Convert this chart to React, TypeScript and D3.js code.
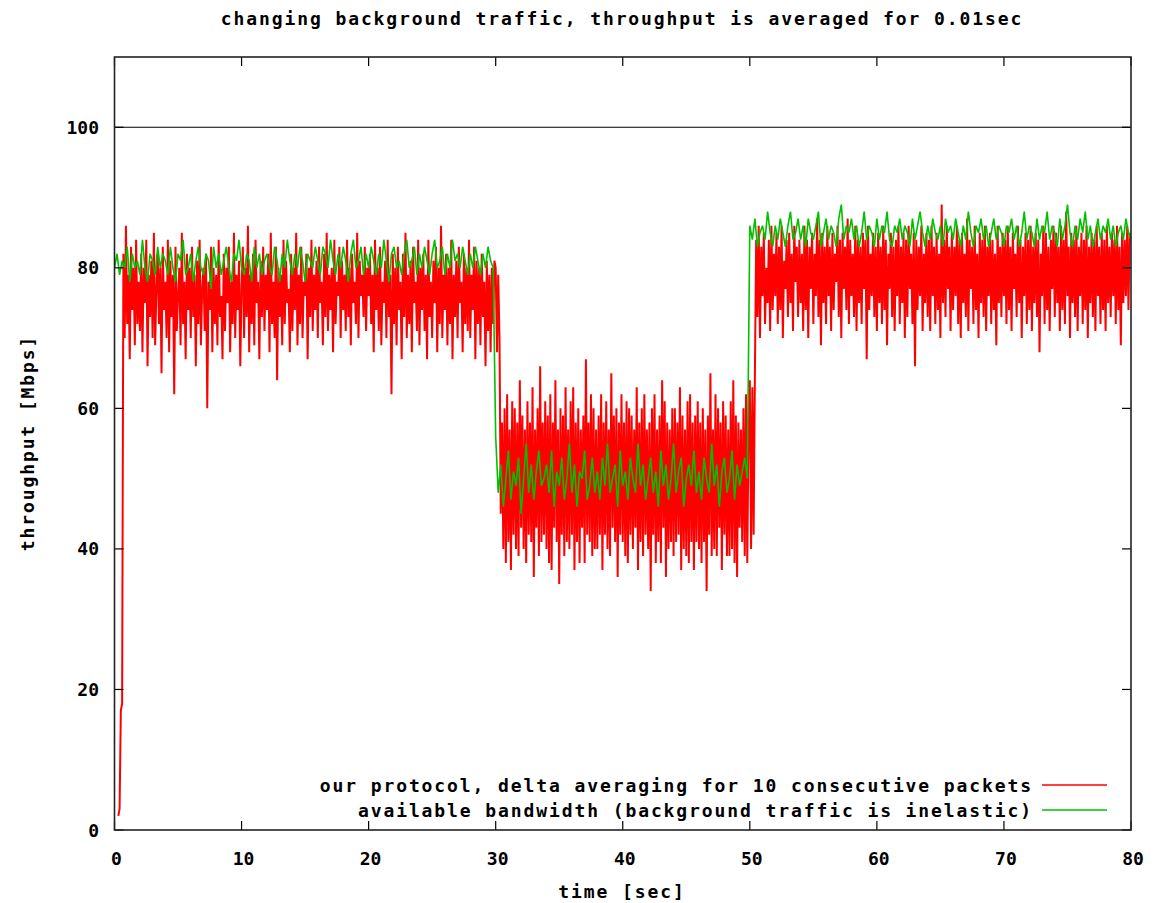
import React from "react";
import * as d3 from "d3";

const title = "changing background traffic, throughput is averaged for 0.01sec";
const xLabel = "time [sec]";
const yLabel = "throughput [Mbps]";
const xTicks = [0, 10, 20, 30, 40, 50, 60, 70, 80];
const yTicks = [0, 20, 40, 60, 80, 100];
const xDomain = [0, 80];
const yDomain = [0, 110];
const legendLabels = [
  "our protocol, delta averaging for 10 consecutive packets",
  "available bandwidth (background traffic is inelastic)",
];
const capacity = 100;

const redStep = 0.1;
const redSeg1Start = 0;
const redSeg1 = [
  null, null, null, 2, 3, 17, 18, 82, 70, 86, 72, 79, 67, 83, 74, 80, 69, 84, 72, 78,
  71, 82, 68, 80, 75, 84, 66, 79, 73, 81, 70, 85, 69, 77, 82, 72, 80, 65, 83, 74,
  78, 70, 84, 68, 81, 73, 79, 62, 83, 71, 76, 80, 69, 85, 72, 78, 67, 82, 74, 80,
  70, 83, 73, 79, 66, 81, 72, 84, 69, 77, 80, 71, 82, 60, 78, 74, 83, 68, 80, 72,
  79, 69, 84, 73, 76, 67, 82, 71, 80, 75, 83, 68, 78, 72, 85, 70, 79, 74, 81, 66,
  77, 83, 70, 80, 73, 86, 68, 79, 72, 82, 69, 84, 75, 78, 67, 81, 73, 83, 71, 79,
  74, 82, 68, 85, 72, 78, 70, 83, 64, 80, 73, 79, 69, 84, 72, 81, 75, 77, 68, 82,
  71, 80, 74, 85, 69, 79, 72, 83, 70, 78, 76, 82, 67, 80, 73, 84, 71, 79, 74, 81,
  70, 83, 75, 78, 69, 82, 73, 85, 71, 79, 74, 80, 68, 84, 72, 78, 76, 83, 70, 81,
  74, 79, 71, 84, 73, 80, 69, 82, 75, 78, 72, 85, 70, 81, 76, 79, 73, 83, 71, 80,
  76, 82, 72, 79, 68, 84, 74, 80, 71, 83, 69, 78, 75, 81, 70, 84, 73, 79, 62, 82,
  72, 80, 69, 83, 74, 78, 67, 82, 73, 85, 70, 79, 72, 81, 68, 83, 75, 78, 71, 84,
  69, 80, 74, 82, 71, 79, 67, 84, 73, 78, 70, 81, 75, 83, 68, 80, 72, 86, 70, 79,
  74, 82, 69, 80, 72, 84, 67, 79, 73, 81, 70, 83, 75, 78, 68, 82, 72, 80, 71, 84,
  70, 79, 74, 83, 67, 81, 72, 80, 69, 82, 73, 78, 66, 81, 71, 79, 68, 80, 72, 81,
];
const redSeg2Start = 30;
const redSeg2 = [
  80, 68, 79, 70, 45, 58, 40, 60, 38, 62, 41, 57, 37, 61, 42, 60, 40, 58, 39, 64,
  43, 59, 40, 57, 38, 61, 42, 58, 41, 63, 36, 57, 43, 60, 39, 66, 41, 58, 42, 61,
  40, 59, 38, 62, 37, 58, 43, 64, 41, 57, 35, 60, 42, 59, 39, 63, 41, 57, 40, 61,
  42, 63, 37, 58, 41, 60, 38, 57, 43, 59, 38, 67, 42, 58, 41, 62, 39, 60, 40, 57,
  40, 59, 42, 62, 37, 58, 42, 61, 40, 57, 39, 65, 43, 59, 41, 60, 36, 58, 42, 62,
  41, 58, 39, 61, 38, 60, 42, 59, 40, 57, 43, 63, 37, 58, 41, 60, 39, 62, 42, 57,
  40, 58, 34, 60, 42, 62, 38, 57, 41, 59, 38, 64, 43, 61, 36, 58, 40, 57, 41, 60,
  39, 60, 41, 58, 42, 63, 37, 59, 40, 57, 39, 61, 38, 62, 41, 58, 37, 59, 41, 61,
  40, 58, 38, 60, 41, 57, 34, 59, 42, 65, 39, 57, 40, 62, 39, 60, 43, 58, 37, 61,
  42, 59, 39, 57, 39, 61, 40, 64, 38, 59, 36, 58, 43, 57, 41, 60, 39, 62, 38, 57,
];
const redSeg3Start = 50;
const redSeg3 = [
  64, 40, 63, 42, 65, 84, 73, 86, 70, 83, 76, 85, 72, 80, 75, 84, 71, 86, 74, 82,
  76, 85, 72, 83, 74, 86, 70, 81, 77, 84, 73, 85, 75, 82, 71, 86, 78, 83, 73, 84,
  75, 82, 71, 86, 74, 84, 70, 83, 77, 85, 72, 82, 76, 87, 73, 84, 69, 85, 75, 83,
  72, 86, 76, 83, 71, 85, 74, 82, 78, 86, 73, 84, 70, 85, 77, 83, 74, 87, 72, 84,
  76, 82, 73, 86, 71, 84, 75, 83, 72, 85, 77, 84, 67, 86, 74, 82, 76, 85, 73, 83,
  71, 85, 75, 83, 72, 86, 74, 84, 69, 82, 77, 85, 73, 83, 71, 84, 76, 86, 72, 83,
  75, 85, 70, 84, 73, 86, 77, 82, 72, 85, 66, 84, 74, 83, 76, 86, 71, 82, 75, 85,
  73, 84, 71, 86, 76, 83, 72, 85, 74, 82, 70, 89, 75, 84, 73, 86, 77, 83, 71, 85,
  74, 83, 76, 86, 72, 84, 70, 85, 75, 82, 73, 87, 71, 84, 77, 83, 72, 86, 74, 82,
  70, 85, 75, 84, 73, 86, 71, 83, 76, 85, 72, 84, 74, 82, 69, 86, 75, 83, 73, 85,
  76, 84, 72, 86, 74, 83, 71, 85, 77, 82, 73, 86, 75, 84, 70, 83, 76, 85, 72, 84,
  74, 86, 71, 83, 75, 85, 73, 84, 68, 82, 76, 86, 72, 85, 74, 83, 71, 84, 77, 86,
  73, 85, 75, 83, 71, 86, 74, 84, 72, 88, 76, 83, 70, 85, 75, 84, 73, 86, 71, 83,
  76, 85, 72, 84, 74, 86, 70, 83, 75, 85, 73, 84, 71, 86, 76, 83, 72, 85, 74, 84,
  71, 86, 75, 83, 73, 85, 76, 84, 72, 86, 74, 83, 69, 85, 75, 84, 76, 86, 74, 85,
];

const greenStep = 0.2;
const greenSeg1Start = 0;
const greenSeg1 = [
  80, 82, 79, 81, 80, 83, 78, 82, 80, 81, 79, 84, 80, 78, 82, 81, 79, 83, 80, 82,
  81, 79, 83, 80, 78, 82, 81, 84, 79, 80, 82, 78, 81, 83, 80, 79, 82, 81, 77, 83,
  80, 82, 79, 81, 83, 80, 78, 82, 81, 84, 80, 79, 82, 81, 78, 83, 80, 82, 79, 81,
  82, 80, 79, 83, 81, 78, 82, 80, 84, 81, 79, 82, 80, 83, 81, 78, 82, 81, 80, 83,
  81, 79, 83, 82, 80, 84, 81, 79, 82, 80, 83, 81, 78, 82, 84, 80, 81, 83, 79, 82,
  80, 83, 81, 79, 82, 80, 84, 81, 78, 82, 83, 80, 81, 79, 82, 84, 80, 81, 83, 79,
  82, 80, 83, 81, 79, 82, 84, 80, 81, 83, 79, 82, 80, 84, 81, 82, 80, 83, 81, 79,
  82, 80, 83, 81, 79, 82, 80, 83, 81, 80,
];
const greenSeg2Start = 30;
const greenSeg2 = [
  56, 48, 52, 46, 50, 54, 47, 51, 49, 53, 45, 50, 55, 48, 52, 47, 51, 54, 49, 50,
  52, 48, 54, 46, 51, 49, 53, 47, 50, 55, 48, 52, 46, 51, 50, 54, 47, 49, 53, 48,
  51, 47, 53, 49, 55, 48, 50, 52, 46, 54, 49, 51, 47, 53, 50, 48, 55, 49, 52, 47,
  50, 53, 48, 51, 46, 54, 49, 52, 47, 50, 55, 48, 51, 53, 46, 50, 52, 49, 54, 48,
  51, 47, 53, 50, 48, 55, 49, 52, 46, 51, 53, 48, 50, 54, 47, 52, 49, 51, 53, 50,
];
const greenSeg3Start = 50;
const greenSeg3 = [
  86, 84, 87, 83, 85, 86, 84, 88, 85, 83, 86, 84, 87, 85, 83, 86, 88, 84, 85, 87,
  84, 86, 83, 87, 85, 84, 86, 88, 83, 85, 87, 84, 86, 85, 83, 87, 89, 84, 86, 85,
  87, 84, 86, 83, 85, 88, 84, 86, 85, 83, 87, 84, 86, 85, 88, 84, 83, 86, 85, 87,
  84, 86, 85, 83, 87, 84, 86, 88, 85, 83, 86, 84, 87, 85, 84, 86, 83, 87, 85, 86,
  84, 87, 85, 83, 86, 84, 88, 85, 83, 86, 85, 87, 84, 86, 83, 85, 87, 84, 86, 85,
  83, 86, 85, 87, 84, 86, 83, 85, 88, 84, 86, 85, 83, 87, 84, 86, 85, 88, 84, 86,
  85, 83, 87, 84, 86, 89, 85, 83, 86, 84, 87, 85, 88, 84, 86, 83, 85, 87, 84, 86,
  85, 87, 84, 86, 83, 85, 86, 84, 87, 85, 84,
];

type Pt = { t: number; v: number | null };

function toPoints(segs: { start: number; values: (number | null)[] }[], step: number): Pt[] {
  return segs.flatMap((s) => s.values.map((v, i) => ({ t: s.start + i * step, v })));
}

const redPoints = toPoints(
  [
    { start: redSeg1Start, values: redSeg1 },
    { start: redSeg2Start, values: redSeg2 },
    { start: redSeg3Start, values: redSeg3 },
  ],
  redStep
);
const greenPoints = toPoints(
  [
    { start: greenSeg1Start, values: greenSeg1 },
    { start: greenSeg2Start, values: greenSeg2 },
    { start: greenSeg3Start, values: greenSeg3 },
  ],
  greenStep
);

const W = 1169;
const H = 903;
const left = 114.5;
const right = 1131;
const top = 57;
const bottom = 830;
const tickLen = 9;
const FONT = "'DejaVu Sans Mono', 'Liberation Mono', monospace";

export default function App() {
  const x = d3.scaleLinear().domain(xDomain).range([left, right]);
  const y = d3.scaleLinear().domain(yDomain).range([bottom, top]);
  const line = d3
    .line<Pt>()
    .defined((d) => d.v != null)
    .x((d) => x(d.t))
    .y((d) => y(d.v as number));

  const textStyle: React.CSSProperties = {
    fontFamily: FONT,
    fontWeight: "bold",
    fontSize: 18,
    letterSpacing: 1.9,
  };

  return (
    <svg
      width={W}
      height={H}
      style={{ position: "absolute", left: 0, top: 0, background: "#fff" }}
    >
      <defs>
        <clipPath id="plot">
          <rect x={left} y={top} width={right - left} height={bottom - top} />
        </clipPath>
      </defs>
      <rect x={0} y={0} width={W} height={H} fill="#fff" />
      <g clipPath="url(#plot)">
        <path
          d={line(redPoints) || ""}
          fill="none"
          stroke="#ff0000"
          strokeWidth={2}
          strokeLinejoin="miter"
          strokeMiterlimit={1}
        />
        <path
          d={line(greenPoints) || ""}
          fill="none"
          stroke="#00c000"
          strokeWidth={1.6}
          strokeLinejoin="miter"
          strokeMiterlimit={1}
        />
        <line
          x1={x(xDomain[0])}
          x2={x(xDomain[1])}
          y1={y(capacity)}
          y2={y(capacity)}
          stroke="#000"
          strokeWidth={1.2}
        />
      </g>
      {/* ticks */}
      {yTicks.map((t) => (
        <g key={"y" + t}>
          <line x1={left} x2={left + tickLen} y1={y(t)} y2={y(t)} stroke="#000" strokeWidth={1.2} />
          <line x1={right - tickLen} x2={right} y1={y(t)} y2={y(t)} stroke="#000" strokeWidth={1.2} />
          <text
            x={99}
            y={y(t)}
            textAnchor="end"
            dominantBaseline="central"
            style={{ ...textStyle, letterSpacing: 0 }}
          >
            {t}
          </text>
        </g>
      ))}
      {xTicks.map((t) => (
        <g key={"x" + t}>
          <line x1={x(t)} x2={x(t)} y1={bottom} y2={bottom - tickLen} stroke="#000" strokeWidth={1.2} />
          <line x1={x(t)} x2={x(t)} y1={top} y2={top + tickLen} stroke="#000" strokeWidth={1.2} />
          <text x={x(t) + 2} y={858} textAnchor="middle" dominantBaseline="central" style={{ ...textStyle, letterSpacing: 0 }}>
            {t}
          </text>
        </g>
      ))}
      {/* frame */}
      <rect
        x={left}
        y={top}
        width={right - left}
        height={bottom - top}
        fill="none"
        stroke="#222"
        strokeWidth={1.6}
      />
      {/* title & labels */}
      <text x={622} y={18} textAnchor="middle" dominantBaseline="central" style={textStyle}>
        {title}
      </text>
      <text x={622} y={891} textAnchor="middle" dominantBaseline="central" style={textStyle}>
        {xLabel}
      </text>
      <text
        transform={`translate(27,443) rotate(-90)`}
        textAnchor="middle"
        dominantBaseline="central"
        style={textStyle}
      >
        {yLabel}
      </text>
      {/* legend */}
      {legendLabels.map((lab, i) => (
        <g key={lab}>
          <text
            x={1033}
            y={785 + i * 25}
            textAnchor="end"
            dominantBaseline="central"
            style={textStyle}
          >
            {lab}
          </text>
          <line
            x1={1042}
            x2={1107}
            y1={785 + i * 25}
            y2={785 + i * 25}
            stroke={i === 0 ? "#ff0000" : "#00c000"}
            strokeWidth={1.5}
          />
        </g>
      ))}
    </svg>
  );
}
